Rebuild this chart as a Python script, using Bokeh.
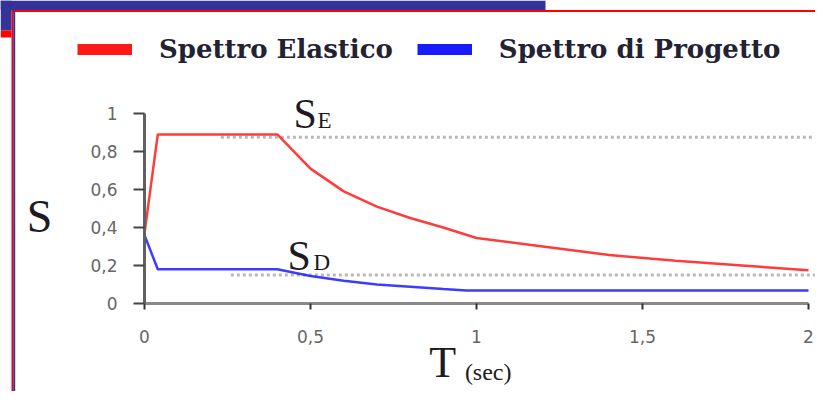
from bokeh.plotting import figure
from bokeh.models import Range1d, FixedTicker, Legend, LegendItem, Label, BoxAnnotation
from bokeh.embed import file_html
from bokeh.resources import INLINE

# ---- data ----
period_elastic = [0.0, 0.04, 0.40, 0.5, 0.6, 0.7, 0.8, 0.9, 1.0, 1.2, 1.4, 1.6, 1.8, 2.0]
s_elastic = [0.37, 0.89, 0.89, 0.71, 0.59, 0.51, 0.45, 0.40, 0.345, 0.30, 0.255, 0.225, 0.20, 0.175]

period_design = [0.0, 0.04, 0.40, 0.5, 0.6, 0.7, 0.8, 0.9, 0.97, 2.0]
s_design = [0.36, 0.18, 0.18, 0.145, 0.12, 0.10, 0.088, 0.076, 0.068, 0.068]

se_ref_t = [0.23, 2.05]
se_ref_s = [0.875, 0.875]
sd_ref_t = [0.26, 2.05]
sd_ref_s = [0.15, 0.15]

x_ticks = [0, 0.5, 1, 1.5, 2]
x_tick_labels = ["0", "0,5", "1", "1,5", "2"]
y_ticks = [0, 0.2, 0.4, 0.6, 0.8, 1]
y_tick_labels = ["0", "0,2", "0,4", "0,6", "0,8", "1"]

series_names = ["Spettro Elastico", "Spettro di Progetto"]
series_colors = ["#ff1a1a", "#1a1aff"]

# ---- figure: the frame fills the canvas, axes are fixed at 0 ----
W, H = 815, 391
PX_PER_T, PX_PER_S = 332.0, 190.0
X0, Y0 = 144.0, 303.0   # pixel position of the origin
p = figure(width=W, height=H, output_backend="svg", toolbar_location=None, title=None,
           x_range=Range1d(-X0 / PX_PER_T, (W - X0) / PX_PER_T),
           y_range=Range1d((Y0 - H) / PX_PER_S, Y0 / PX_PER_S),
           min_border=0, min_border_left=0, min_border_right=0,
           min_border_top=0, min_border_bottom=0)
p.outline_line_color = None
p.xgrid.visible = False
p.ygrid.visible = False
p.background_fill_color = "white"
p.border_fill_color = "white"

# axes
xa = p.xaxis[0]
xa.fixed_location = 0
xa.ticker = FixedTicker(ticks=x_ticks)
xa.major_label_overrides = {t: l for t, l in zip(x_ticks, x_tick_labels)}
xa.bounds = (0, 2)
xa.axis_line_color = "#8a8a8a"
xa.axis_line_width = 3
xa.major_tick_line_color = "#333333"
xa.major_tick_line_width = 2
xa.major_tick_in = 0
xa.major_tick_out = 6
xa.minor_tick_line_color = None
xa.major_label_standoff = 20
xa.major_label_text_font = "DejaVu Sans"
xa.major_label_text_font_size = "17px"
xa.major_label_text_color = "#666666"

ya = p.yaxis[0]
ya.fixed_location = 0
ya.ticker = FixedTicker(ticks=y_ticks)
ya.major_label_overrides = {t: l for t, l in zip(y_ticks, y_tick_labels)}
ya.bounds = (0, 1)
ya.axis_line_color = "#606060"
ya.axis_line_width = 3
ya.major_tick_line_color = "#444444"
ya.major_tick_line_width = 2
ya.major_tick_in = 0
ya.major_tick_out = 11
ya.minor_tick_line_color = None
ya.major_label_standoff = 16
ya.major_label_text_font = "DejaVu Sans"
ya.major_label_text_font_size = "17px"
ya.major_label_text_color = "#666666"

# reference dotted lines
p.line(se_ref_t, se_ref_s, line_color="#b8b8b8", line_width=3, line_dash="3 3")
p.line(sd_ref_t, sd_ref_s, line_color="#b8b8b8", line_width=3, line_dash="3 3")

# spectra
p.line(period_elastic, s_elastic, line_color=series_colors[0], line_width=2.5, line_alpha=0.85)
p.line(period_design, s_design, line_color=series_colors[1], line_width=2.5, line_alpha=0.85)

# legend with thick swatches (proxy renderers that draw nothing in the plot)
nan = float("nan")
leg_r = p.line(x=[nan], y=[nan], line_color=series_colors[0], line_width=11)
leg_b = p.line(x=[nan], y=[nan], line_color=series_colors[1], line_width=11)
legend = Legend(items=[LegendItem(label=series_names[0], renderers=[leg_r]),
                       LegendItem(label=series_names[1], renderers=[leg_b])],
                orientation="horizontal", location=(77, 327),
                glyph_width=55, glyph_height=30, label_height=30,
                label_standoff=27, spacing=24, padding=0, margin=0,
                border_line_color=None, background_fill_alpha=0,
                label_text_font="DejaVu Serif", label_text_font_style="bold",
                label_text_font_size="26px", label_text_color="#222233",
                label_text_baseline="middle")
p.add_layout(legend)

serif = "Liberation Serif"
def lab(x, y, text, size):
    p.add_layout(Label(x=x, y=y, text=text, text_font=serif, text_font_size=size,
                       text_color="#1e1a22", text_align="left", text_baseline="alphabetic"))

lab(-0.355, 0.458, "S", "46px")
lab(0.858, -0.31, "T", "44px")
lab(0.965, -0.363, "(sec)", "24px")
lab(0.449, 1.0, "S", "42px")
lab(0.521, 0.963, "E", "23px")
lab(0.431, 0.2526, "S", "42px")
lab(0.509, 0.218, "D", "23px")

# slide frame decorations (pixel boxes converted to data units)
def fx(px):
    return (px - X0) / PX_PER_T
def fy(py):
    return (Y0 - py) / PX_PER_S
def box(l, r, t, b, c):
    p.add_layout(BoxAnnotation(left=fx(l), right=fx(r), top=fy(t), bottom=fy(b),
                               fill_color=c, fill_alpha=1, line_color=None, level="overlay"))

box(0, 545, 0, 9.5, "#333399")
box(11, W, 9.5, 11.5, "#ff0000")
box(0, 11, 0, 30, "#333399")
box(0, 11, 30, 37, "#ff0000")
box(11, 12.7, 10, H, "#ff0000")
box(12.7, 14.7, 10, H, "#333399")

open("out.html", "w").write(file_html(p, INLINE))
